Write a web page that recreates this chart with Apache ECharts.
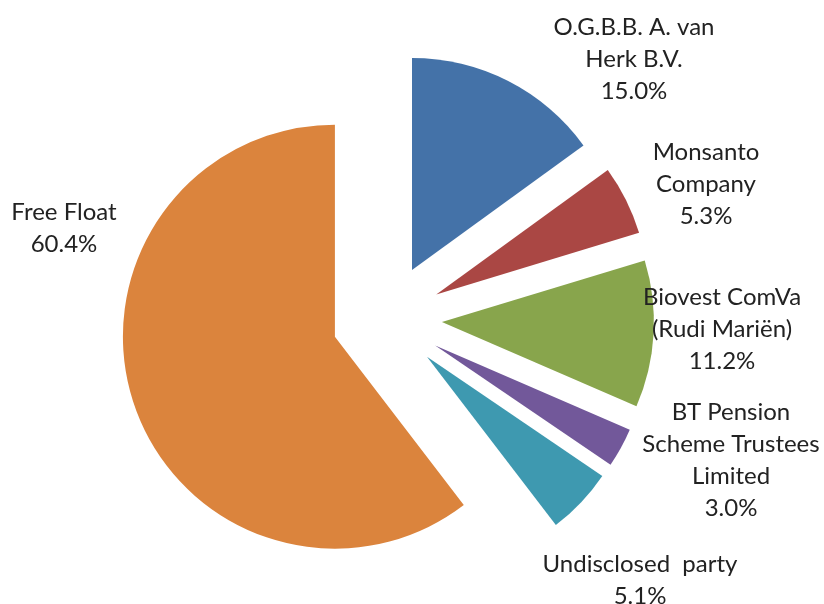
<!DOCTYPE html>
<html>
<head>
<meta charset="utf-8">
<script src="https://cdn.jsdelivr.net/npm/echarts@6/dist/echarts.min.js"></script>
<style>
    html, body {margin: 0; padding: 0; background: #fff;}
    #chartWrap {width: 824px; height: 604px;}
</style>
</head>
<body>
<div id="chartWrap"></div>
<script>
// shareholders, clockwise from 12 o'clock
const holders = ['O.G.B.B. A. van\nHerk B.V.', 'Monsanto\nCompany', 'Biovest ComVa\n(Rudi Mariën)', 'BT Pension\nScheme Trustees\nLimited', 'Undisclosed  party', 'Free Float'];
const shares = [15.0, 5.3, 11.2, 3.0, 5.1, 60.4];
const colors = ['#4472a8', '#aa4744', '#88a54c', '#72589a', '#3e99b0', '#db843d'];

// where the data labels sit (centre of each text block)
const labelPos = [[634, 59], [706, 184], [722, 329], [731, 460], [640, 580], [64, 228]];

let myChart = echarts.init(document.getElementById('chartWrap'));

let slices = [];
let labels = [];
holders.forEach(function (name, i) {
    slices.push({
        name: name,
        value: shares[i],
        selected: true,
        itemStyle: {color: colors[i]},
        select: {itemStyle: {color: colors[i]}}
    });
    labels.push({name: name, value: shares[i]});
});

myChart.setOption({
    animation: false,
    backgroundColor: '#fff',
    series: [{
        // exploded slices
        type: 'pie',
        center: [387, 319],
        radius: 212,
        startAngle: 90,
        clockwise: true,
        selectedMode: 'multiple',
        selectedOffset: 55,
        data: slices,
        label: {show: false},
        labelLine: {show: false},
        emphasis: {disabled: true}
    }, {
        // same data, invisible, only carries the data labels
        type: 'pie',
        center: [387, 319],
        radius: 212,
        startAngle: 90,
        silent: true,
        data: labels,
        itemStyle: {color: 'rgba(0,0,0,0)'},
        label: {
            show: true,
            position: 'outside',
            formatter: function (p) {
                return p.name + '\n' + p.value.toFixed(1) + '%';
            },
            fontFamily: 'Lato',
            fontSize: 24,
            lineHeight: 32,
            color: '#222'
        },
        labelLine: {show: false},
        labelLayout: function (params) {
            const pos = labelPos[params.dataIndex];
            return {x: pos[0], y: pos[1], align: 'center', verticalAlign: 'middle'};
        },
        emphasis: {disabled: true}
    }]
});
</script>
</body>
</html>
